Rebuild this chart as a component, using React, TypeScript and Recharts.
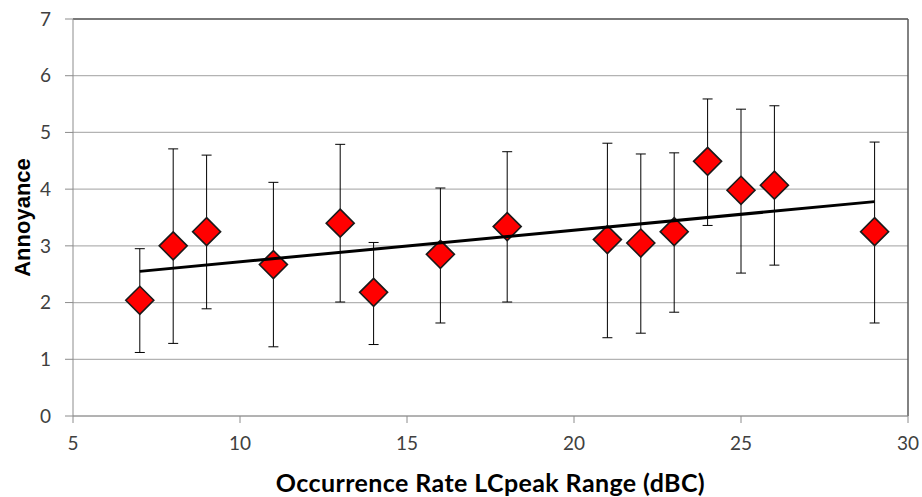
import { ScatterChart, Scatter, XAxis, YAxis, CartesianGrid, ErrorBar, ReferenceLine } from 'recharts';

// occurrence rate bins (dBC) and annoyance ratings
const rateBins = [7, 8, 9, 11, 13, 14, 16, 18, 21, 22, 23, 24, 25, 26, 29];
const meanAnnoyance = [2.04, 3.0, 3.25, 2.67, 3.4, 2.18, 2.85, 3.34, 3.11, 3.05, 3.25, 4.49, 3.98, 4.07, 3.25];
const upperBound = [2.95, 4.71, 4.6, 4.12, 4.79, 3.06, 4.02, 4.66, 4.81, 4.62, 4.64, 5.59, 5.41, 5.47, 4.83];
const lowerBound = [1.12, 1.28, 1.89, 1.22, 2.01, 1.26, 1.64, 2.01, 1.38, 1.46, 1.83, 3.36, 2.52, 2.66, 1.64];

// linear trendline end points
const trendX = [7, 29];
const trendY = [2.55, 3.78];

const xTicks = [5, 10, 15, 20, 25, 30];
const yTicks = [0, 1, 2, 3, 4, 5, 6, 7];

const points = rateBins.map((x, i) => ({
  x,
  y: meanAnnoyance[i],
  err: [meanAnnoyance[i] - lowerBound[i], upperBound[i] - meanAnnoyance[i]],
}));

const trend = trendX.map((x, i) => ({ x, y: trendY[i] }));

const FONT = 'Lato, "Open Sans", sans-serif';
const tickStyle = { fontSize: 19, fill: '#404040', fontFamily: FONT };
const xTitleStyle = { fontSize: 25, fontWeight: 700, fill: '#000', fontFamily: FONT, letterSpacing: 0.4 };
const yTitleStyle = { fontSize: 22, fontWeight: 700, fill: '#000', fontFamily: '"Liberation Sans", Arial, sans-serif' };

const Diamond = (props: any) => {
  const { cx, cy } = props;
  const r = 14;
  return (
    <path
      d={`M${cx},${cy - r}L${cx + r},${cy}L${cx},${cy + r}L${cx - r},${cy}Z`}
      fill="#ff0000"
      stroke="#1a1a1a"
      strokeWidth={1.6}
    />
  );
};

export default function App() {
  return (
    <div style={{ position: 'absolute', left: 0, top: 0, background: '#fff' }}>
      <ScatterChart width={922} height={497} margin={{ top: 19, right: 14, bottom: 0, left: 0 }}>
        <CartesianGrid vertical={false} stroke="#b3b3b3" strokeWidth={1.2} />
        <XAxis
          type="number"
          dataKey="x"
          domain={[5, 30]}
          ticks={xTicks}
          height={81}
          tickSize={7}
          tickMargin={14}
          tick={tickStyle}
          axisLine={{ stroke: '#8c8c8c' }}
          tickLine={{ stroke: '#8c8c8c' }}
          label={{ value: 'Occurrence Rate LCpeak Range (dBC)', position: 'center', dy: 27, style: xTitleStyle }}
        />
        <YAxis
          type="number"
          dataKey="y"
          domain={[0, 7]}
          ticks={yTicks}
          width={73}
          tickSize={8}
          tickMargin={14}
          tick={tickStyle}
          axisLine={{ stroke: '#8c8c8c' }}
          tickLine={{ stroke: '#8c8c8c' }}
          label={{ value: 'Annoyance', angle: -90, position: 'center', dx: -14, style: yTitleStyle }}
        />
        <ReferenceLine y={7} stroke="#595959" strokeWidth={1.5} />
        <ReferenceLine x={30} stroke="#595959" strokeWidth={1.5} />
        <Scatter data={points} shape={<Diamond />} isAnimationActive={false}>
          <ErrorBar dataKey="err" direction="y" width={5} stroke="#000" strokeWidth={1} />
        </Scatter>
        <Scatter
          data={trend}
          line={{ stroke: '#000', strokeWidth: 3 }}
          shape={() => <g />}
          isAnimationActive={false}
        />
      </ScatterChart>
    </div>
  );
}
